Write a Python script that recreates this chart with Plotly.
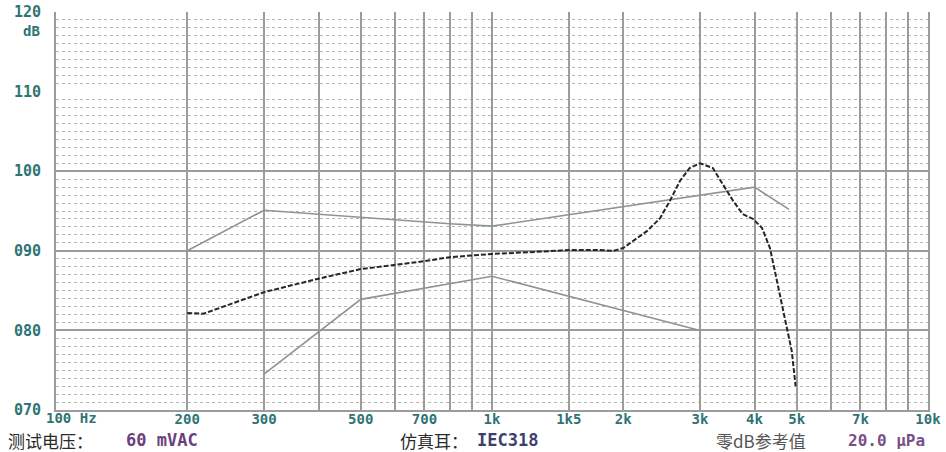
import plotly.graph_objects as go

# ---------------- data ----------------
grid_freqs = [100, 200, 300, 400, 500, 600, 700, 800, 900, 1000, 1500,
              2000, 3000, 4000, 5000, 6000, 7000, 8000, 9000, 10000]
grid_labels = ["", "200", "300", "", "500", "", "700", "", "", "1k", "1k5",
               "2k", "3k", "4k", "5k", "", "7k", "", "", "10k"]

db_ticks = [70, 80, 90, 100, 110, 120]
db_labels = ["070", "080", "090", "100", "110", "120"]
db_major = [80, 90, 100]
db_minor = [v for v in range(71, 121) if v not in (80, 90, 100, 110)]

resp_f = [200, 218, 300, 400, 500, 700, 800, 1000, 1300, 1500, 1750, 1900,
          2000, 2270, 2430, 2560, 2700, 2840, 3000, 3210, 3380, 3570, 3760,
          3970, 4160, 4340, 4520, 4750, 4870, 4970]
resp_db = [82.2, 82.1, 84.8, 86.5, 87.7, 88.7, 89.2, 89.6, 89.9, 90.1, 90.1,
           90.0, 90.35, 92.5, 94.1, 96.3, 98.8, 100.4, 101.0, 100.4, 98.4,
           96.3, 94.6, 94.0, 92.9, 90.35, 85.8, 80.3, 77.4, 73.0]

upper_f = [200, 300, 800, 1000, 4000, 4800]
upper_db = [90.0, 95.1, 93.4, 93.1, 98.0, 95.2]

lower_f = [300, 500, 1000, 3000]
lower_db = [74.5, 83.9, 86.8, 80.0]

# ---------------- style ----------------
W, H = 946, 452
ML, MR, MT, MB = 56, 18, 12, 42
GRID = "#9c9c9c"
TEAL = "#2f7474"
MONO = "DejaVu Sans Mono"
CJK = "Noto Sans CJK SC"

fig = go.Figure()
fig.add_trace(go.Scatter(x=upper_f, y=upper_db, mode="lines",
                         line=dict(color="#8a9694", width=1.6),
                         hoverinfo="skip", showlegend=False))
fig.add_trace(go.Scatter(x=lower_f, y=lower_db, mode="lines",
                         line=dict(color="#8a9694", width=1.6),
                         hoverinfo="skip", showlegend=False))
fig.add_trace(go.Scatter(x=resp_f, y=resp_db, mode="lines",
                         line=dict(color="#262626", width=2, dash="5px,2px"),
                         hoverinfo="skip", showlegend=False))
# invisible carrier for the label axis
fig.add_trace(go.Scatter(x=[1000], y=[95], mode="markers", yaxis="y2",
                         marker=dict(opacity=0), hoverinfo="skip",
                         showlegend=False))

fig.update_layout(
    width=W, height=H,
    margin=dict(l=ML, r=MR, t=MT, b=MB, autoexpand=False),
    paper_bgcolor="white", plot_bgcolor="white",
    xaxis=dict(type="log", range=[2, 4], tickmode="array",
               tickvals=grid_freqs,
               ticktext=[f"<b>{t}</b>" if t else "" for t in grid_labels],
               showgrid=True, gridcolor=GRID, gridwidth=1.5,
               zeroline=False, ticks="", automargin=False,
               tickfont=dict(family=MONO, size=14, color=TEAL),
               ticklabelstandoff=-5,
               showline=True, linecolor=GRID, linewidth=1.5),
    yaxis=dict(range=[70, 120], tickmode="array", tickvals=db_major,
               showticklabels=False, showgrid=True, gridcolor=GRID,
               gridwidth=1.5, zeroline=False, ticks="", automargin=False,
               showline=True, mirror=True, linecolor=GRID, linewidth=1.5,
               minor=dict(tickmode="array", tickvals=db_minor, showgrid=True,
                          gridcolor="#b4b4b4", gridwidth=1,
                          griddash="3px,3px", ticks="")),
    yaxis2=dict(range=[70, 120], overlaying="y", side="left", anchor="x",
                tickmode="array", tickvals=db_ticks,
                ticktext=[f"<b>{t}</b>" for t in db_labels],
                showgrid=False, zeroline=False, ticks="", showline=False,
                automargin=False,
                tickfont=dict(family=MONO, size=15, color=TEAL),
                ticklabelstandoff=14),
)

def ann(text, px, py, color, family, size, anchor="left"):
    fig.add_annotation(text=text, xref="paper", yref="paper",
                       x=0, y=1, xshift=px - ML, yshift=-(py - MT),
                       xanchor=anchor, yanchor="middle", showarrow=False,
                       font=dict(family=family, size=size, color=color))

ann("<b>dB</b>", 42, 31, TEAL, MONO, 14, anchor="right")
ann("<b>100 Hz</b>", 44, 418, TEAL, MONO, 14)
ann("测试电压：", 6, 440, "#2a2a2a", CJK, 17)
ann("<b>60 mVAC</b>", 124, 440, "#6b3f7c", MONO, 17)
ann("仿真耳：", 398, 440, "#2a2a2a", CJK, 17)
ann("<b>IEC318</b>", 475, 440, "#3e3e6e", MONO, 17)
ann("零dB参考值", 714, 440, "#555555", CJK, 17)
ann("<b>20.0 μPa</b>", 846, 440, "#7a4f88", MONO, 16)

fig.write_html("out.html", config={"displayModeBar": False},
               post_script="document.body.style.margin='0';")
